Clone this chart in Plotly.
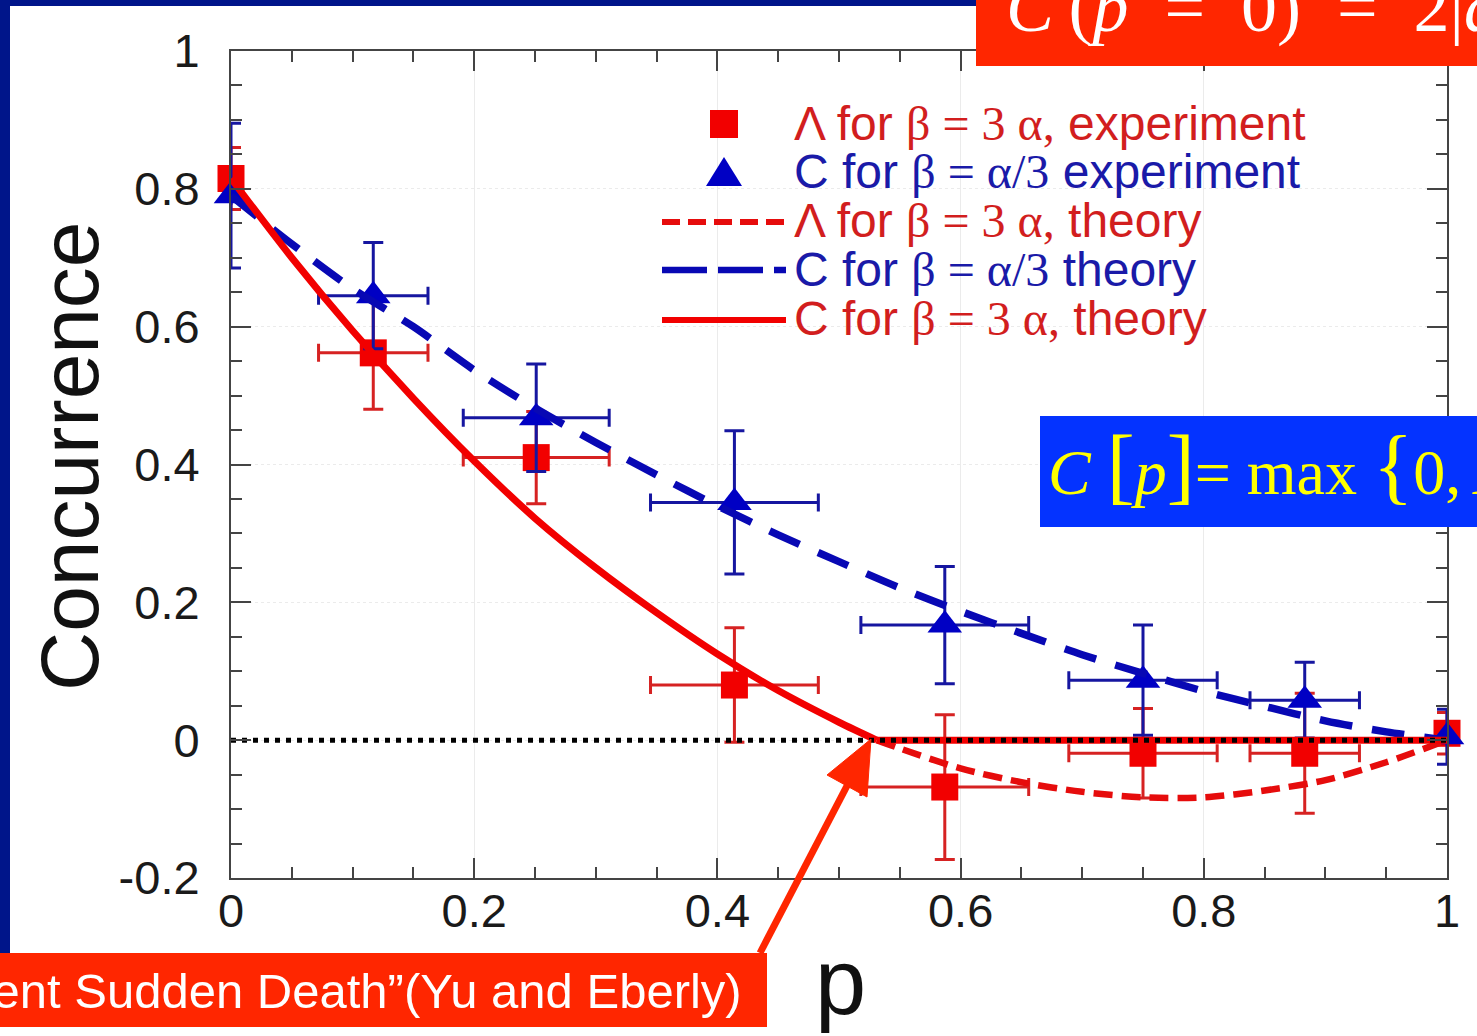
import plotly.graph_objects as go

# ---------------- data ----------------
p_exp = [0.0, 0.117, 0.251, 0.414, 0.587, 0.750, 0.883, 1.0]
p_err = [None, 0.045, 0.060, 0.069, 0.069, 0.061, 0.045, None]

lam_exp = [0.815, 0.562, 0.410, 0.080, -0.068, -0.019, -0.019, 0.010]
lam_err = [0.045, 0.082, 0.067, 0.083, 0.105, 0.065, 0.087, 0.030]

c_exp = [0.790, 0.645, 0.468, 0.345, 0.167, 0.087, 0.058, 0.005]
c_err = [0.105, 0.077, 0.078, 0.104, 0.085, 0.080, 0.055, 0.040]

# theory: Lambda for beta = 3 alpha (negative branch, dashed)
p_lam_th = [0.531, 0.55, 0.60, 0.65, 0.70, 0.75, 0.80, 0.85, 0.90, 0.95, 1.0]
lam_th = [0.0, -0.012, -0.041, -0.061, -0.075, -0.083, -0.083, -0.073, -0.058, -0.032, 0.0]

# theory: C for beta = alpha/3 (blue dashed)
p_cb_th = [0.0, 0.05, 0.10, 0.15, 0.20, 0.25, 0.30, 0.35, 0.40, 0.45, 0.50,
           0.55, 0.60, 0.65, 0.70, 0.75, 0.80, 0.85, 0.90, 0.95, 1.0]
cb_th = [0.790, 0.720, 0.655, 0.600, 0.537, 0.482, 0.432, 0.385, 0.340, 0.298, 0.259,
         0.221, 0.187, 0.155, 0.124, 0.097, 0.071, 0.049, 0.028, 0.012, 0.0]

# theory: C for beta = 3 alpha (red solid) = max(0, Lambda)
p_cr_th = [0.0, 0.05, 0.10, 0.15, 0.20, 0.25, 0.30, 0.35, 0.40, 0.45, 0.50, 0.531, 1.0]
cr_th = [0.815, 0.700, 0.594, 0.496, 0.405, 0.322, 0.250, 0.185, 0.125, 0.072, 0.026, 0.0, 0.0]
KINK = 11  # index of the zero crossing in p_cr_th

zero_x = [0.0, 1.0]
zero_y = [0.0, 0.0]

x_ticks = [0, 0.2, 0.4, 0.6, 0.8, 1.0]
x_ticktext = ["0", "0.2", "0.4", "0.6", "0.8", "1"]
y_ticks = [-0.2, 0, 0.2, 0.4, 0.6, 0.8, 1.0]
y_ticktext = ["-0.2", "0", "0.2", "0.4", "0.6", "0.8", "1"]

legend_labels = [
    'Λ for <span style="font-family:Liberation Serif">β = 3 α,</span> experiment',
    'C for <span style="font-family:Liberation Serif">β = α/3</span> experiment',
    'Λ for <span style="font-family:Liberation Serif">β = 3 α,</span> theory',
    'C for <span style="font-family:Liberation Serif">β = α/3</span> theory',
    'C for <span style="font-family:Liberation Serif">β = 3 α,</span> theory',
]

# ---------------- layout geometry ----------------
W, H = 1477, 1036
PL, PT, PW, PH = 231, 51, 1216, 827


def fx(px):
    return (px - PL) / PW


def fy(py):
    return (PT + PH - py) / PH


RED = "#f20000"
RED_ERR = "#d62222"
BLUE = "#0000c4"
BLUE_ERR = "#1616a0"
BOX_RED = "#ff2600"
BOX_BLUE = "#0433ff"
SANS = "Liberation Sans, Arial, sans-serif"
SERIF = "Liberation Serif, Times New Roman, serif"

fig = go.Figure()

fig.add_trace(go.Scatter(
    x=p_exp, y=lam_exp, mode="markers", cliponaxis=False,
    marker=dict(symbol="square", size=27, color=RED),
    error_y=dict(type="data", array=lam_err, color=RED_ERR, thickness=3, width=10),
    error_x=dict(type="data", array=p_err, color=RED_ERR, thickness=3, width=9),
))
fig.add_trace(go.Scatter(
    x=p_exp, y=c_exp, mode="markers", cliponaxis=False,
    marker=dict(symbol="triangle-up", size=30, color=BLUE),
    error_y=dict(type="data", array=c_err, color=BLUE_ERR, thickness=3, width=10),
    error_x=dict(type="data", array=p_err, color=BLUE_ERR, thickness=3, width=9),
))
fig.add_trace(go.Scatter(
    x=p_lam_th, y=lam_th, mode="lines", cliponaxis=False,
    line=dict(color="#e60c0c", width=6.5, dash="19px,9px", shape="spline", smoothing=0.8),
))
fig.add_trace(go.Scatter(
    x=p_cb_th, y=cb_th, mode="lines", cliponaxis=False,
    line=dict(color="#0808b4", width=7.5, dash="33px,20px", shape="spline", smoothing=0.8),
))
fig.add_trace(go.Scatter(
    x=p_cr_th[:KINK + 1], y=cr_th[:KINK + 1], mode="lines", cliponaxis=False,
    line=dict(color=RED, width=7, shape="spline", smoothing=0.8),
))
fig.add_trace(go.Scatter(
    x=p_cr_th[KINK:], y=cr_th[KINK:], mode="lines", cliponaxis=False,
    line=dict(color=RED, width=7),
))
fig.add_trace(go.Scatter(
    x=zero_x, y=zero_y, mode="lines", cliponaxis=False,
    line=dict(color="black", width=5, dash="5px,6px"),
))

shapes = []
# slide background strips
shapes.append(dict(type="rect", xref="paper", yref="paper", x0=fx(0), x1=fx(978), y0=fy(0), y1=fy(6),
                   fillcolor="#00158a", line=dict(width=0), layer="above"))
shapes.append(dict(type="rect", xref="paper", yref="paper", x0=fx(0), x1=fx(10), y0=fy(0), y1=fy(953),
                   fillcolor="#00158a", line=dict(width=0), layer="above"))
# coloured boxes
shapes.append(dict(type="rect", xref="paper", yref="paper", x0=fx(976), x1=fx(W), y0=fy(0), y1=fy(66),
                   fillcolor=BOX_RED, line=dict(width=0), layer="above"))
shapes.append(dict(type="rect", xref="paper", yref="paper", x0=fx(1040), x1=fx(W), y0=fy(416), y1=fy(527),
                   fillcolor=BOX_BLUE, line=dict(width=0), layer="above"))
shapes.append(dict(type="rect", xref="paper", yref="paper", x0=fx(0), x1=fx(767), y0=fy(953), y1=fy(1027),
                   fillcolor=BOX_RED, line=dict(width=0), layer="above"))
# arrow
shapes.append(dict(type="line", xref="paper", yref="paper", x0=fx(760), y0=fy(953), x1=fx(849), y1=fy(782),
                   line=dict(color=BOX_RED, width=7), layer="above"))
shapes.append(dict(type="path", xref="paper", yref="paper",
                   path=f"M {fx(871)} {fy(739)} L {fx(827)} {fy(775)} L {fx(867)} {fy(797)} Z",
                   fillcolor=BOX_RED, line=dict(color=BOX_RED, width=1), layer="above"))
# legend symbols
shapes.append(dict(type="rect", xref="paper", yref="paper", x0=fx(710), x1=fx(738), y0=fy(138), y1=fy(110),
                   fillcolor=RED, line=dict(width=0), layer="above"))
shapes.append(dict(type="path", xref="paper", yref="paper",
                   path=f"M {fx(706)} {fy(186)} L {fx(742)} {fy(186)} L {fx(724)} {fy(157)} Z",
                   fillcolor=BLUE, line=dict(width=0), layer="above"))
shapes.append(dict(type="line", xref="paper", yref="paper", x0=fx(662), x1=fx(786), y0=fy(222), y1=fy(222),
                   line=dict(color="#e60c0c", width=6, dash="18px,8px"), layer="above"))
shapes.append(dict(type="line", xref="paper", yref="paper", x0=fx(662), x1=fx(786), y0=fy(270), y1=fy(270),
                   line=dict(color="#0808b4", width=6.5, dash="45px,11px"), layer="above"))
shapes.append(dict(type="line", xref="paper", yref="paper", x0=fx(662), x1=fx(786), y0=fy(320), y1=fy(320),
                   line=dict(color=RED, width=6), layer="above"))

annotations = []
legend_colors = ["#d21e1e", "#1a1aa8", "#d21e1e", "#1a1aa8", "#d21e1e"]
legend_base = [140, 188, 237, 286, 335]
LFS = 48
for lab, col, bl in zip(legend_labels, legend_colors, legend_base):
    annotations.append(dict(xref="paper", yref="paper", x=fx(792), y=fy(bl - 0.3465 * LFS),
                            xanchor="left", yanchor="middle", showarrow=False, text=lab,
                            font=dict(family=SANS, size=LFS, color=col)))

# axis titles
annotations.append(dict(xref="paper", yref="paper", x=fx(69), y=fy(457), textangle=-90,
                        xanchor="center", yanchor="middle", showarrow=False, text="Concurrence",
                        font=dict(family=SANS, size=82, color="#111")))
annotations.append(dict(xref="paper", yref="paper", x=fx(840), y=fy(1014 - 0.3465 * 92),
                        xanchor="center", yanchor="middle", showarrow=False, text="p",
                        font=dict(family=SANS, size=92, color="#111")))

# box texts
annotations.append(dict(xref="paper", yref="paper", x=fx(1004), y=fy(31 - 0.3375 * 72),
                        xanchor="left", yanchor="middle", showarrow=False,
                        text="<i>C</i>\u2009(<i>p</i>\u2002=\u20020)\u2002=\u20022|<i>a</i>",
                        font=dict(family=SERIF, size=72, color="white")))
annotations.append(dict(xref="paper", yref="paper", x=fx(1046), y=fy(487 - 0.3375 * 64),
                        xanchor="left", yanchor="middle", showarrow=False,
                        text='<i>C</i> <span style="font-size:84px">[</span><i>p</i>'
                             '<span style="font-size:84px">]</span>= max '
                             '<span style="font-size:84px">{</span>0, <i>Λ</i>',
                        font=dict(family=SERIF, size=64, color="#ffff00")))
annotations.append(dict(xref="paper", yref="paper", x=fx(744), y=fy(1008 - 0.3465 * 50),
                        xanchor="right", yanchor="middle", showarrow=False,
                        text="“Entanglement Sudden Death”(Yu and Eberly)",
                        font=dict(family=SANS, size=49, color="white")))

axis_common = dict(
    showline=True, linecolor="#444", linewidth=2, mirror="ticks",
    ticks="inside", ticklen=20, tickwidth=2, tickcolor="#444",
    showgrid=True, gridcolor="#ebebeb", gridwidth=1, zeroline=False,
    tickfont=dict(family=SANS, size=47, color="#1a1a1a"),
    tickmode="array",
)

fig.update_layout(
    width=W, height=H,
    margin=dict(l=PL, r=W - PL - PW, t=PT, b=H - PT - PH),
    paper_bgcolor="white", plot_bgcolor="white",
    showlegend=False,
    xaxis=dict(range=[0, 1], tickvals=x_ticks, ticktext=x_ticktext, ticklabelstandoff=-9,
               minor=dict(tickmode="linear", tick0=0, dtick=0.05, ticks="inside", ticklen=11,
                          tickwidth=2, tickcolor="#444", showgrid=False),
               **axis_common),
    yaxis=dict(range=[-0.2, 1], tickvals=y_ticks, ticktext=y_ticktext, ticklabelstandoff=20,
               griddash="dot",
               minor=dict(tickmode="linear", tick0=0, dtick=0.05, ticks="inside", ticklen=11,
                          tickwidth=2, tickcolor="#444", showgrid=False),
               **axis_common),
    shapes=shapes,
    annotations=annotations,
)

fig.write_html("out.html")
